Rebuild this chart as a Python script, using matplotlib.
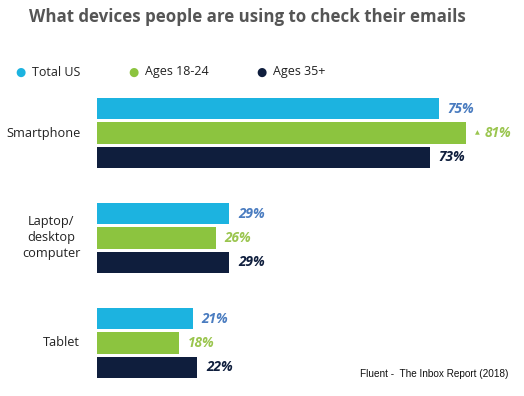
import matplotlib

matplotlib.use("Agg")
import matplotlib.pyplot as plt  # noqa: E402

devices = ["Smartphone", "Laptop/\ndesktop\ncomputer", "Tablet"]
series = ["Total US", "Ages 18-24", "Ages 35+"]
total_us = [75, 29, 21]
ages_18_24 = [81, 26, 18]
ages_35 = [73, 29, 22]

bar_colors = ["#1cb3e0", "#8cc43f", "#0f1e3d"]
label_colors = ["#4a7cc0", "#9ac54e", "#0f1e3d"]

W, H = 524, 396
fig = plt.figure(figsize=(W / 100, H / 100), dpi=100)
x0 = 97
ax = fig.add_axes([x0 / W, 0, 1 - x0 / W, 1])
ax.set_xlim(0, (W - x0) / 4.56)
# one unit on y = distance between device groups
ax.set_ylim((H - 133) / 105, -133 / 105)
ax.axis("off")

offsets = [-0.233, 0, 0.233]
for k, vals in enumerate([total_us, ages_18_24, ages_35]):
    ys = [i + offsets[k] for i in range(len(devices))]
    ax.barh(ys, vals, height=0.205, color=bar_colors[k], left=0)
    for y, v in zip(ys, vals):
        pad = 1.9
        if k == 1 and v == max(ages_18_24):
            # small "up" marker in front of the highest value
            ax.text(v + 1.9, y, "\u25b2", color=label_colors[k], fontsize=4.5,
                    va="center", ha="left", family="DejaVu Sans")
            pad = 3.9
        ax.text(v + pad, y, f"{v}%", color=label_colors[k], fontsize=9.8,
                fontweight="bold", fontstyle="italic", va="center", ha="left",
                family="Open Sans")

for i, name in enumerate(devices):
    ax.text(-3.7, i, name, ha="right", va="center", fontsize=9.2,
            color="#222222", family="Open Sans", linespacing=1.3,
            multialignment="center")

fig.text(247 / W, 1 - 17 / H, "What devices people are using to check their emails",
         ha="center", va="center", fontsize=12.2, fontweight="bold",
         color="#555555", family="Open Sans")

legend_x = [20, 133, 261]
for x, name, c in zip(legend_x, series, bar_colors):
    fig.text(x / W, 1 - 72 / H, "\u25cf", color=c, fontsize=8.5, ha="center",
             va="center", family="DejaVu Sans")
    fig.text((x + 12) / W, 1 - 72 / H, name, color="#222222", fontsize=9,
             ha="left", va="center", family="Open Sans")

fig.text(508 / W, 1 - 374 / H, "Fluent -  The Inbox Report (2018)", ha="right",
         va="center", fontsize=7.2, color="#111111", family="Liberation Sans")

fig.savefig("out.png", dpi=100)
